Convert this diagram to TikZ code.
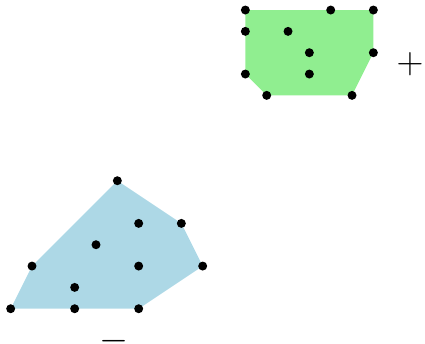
\documentclass[tikz,border=0pt]{standalone}
\usepackage{tikz}
\definecolor{lgreen}{RGB}{144,238,144}
\definecolor{lblue}{RGB}{173,216,230}
\tikzset{
  dot/.style={circle,fill=black,inner sep=0pt,minimum size=4.3mm},
  sign/.style={inner sep=0pt,font=\Huge}
}
\begin{document}
\begin{tikzpicture}[x=5mm,y=5mm]
\useasboundingbox (-0.5,-1.61) rectangle (19.42,14.47);
% green hull
\fill[lgreen] (11,14) -- (17,14) -- (17,12) -- (16,10) -- (12,10) -- (11,11) -- cycle;
% blue hull
\fill[lblue] (5,6) -- (8,4) -- (9,2) -- (6,0) -- (0,0) -- (1,2) -- cycle;
% green points
\foreach \p [count=\i] in {(11,14),(15,14),(17,14),(11,13),(13,13),(17,12),(14,12),(14,11),(11,11),(12,10),(16,10)}
  \node[dot,minimum size=2.1mm] (g\i) at \p {};
% blue points
\foreach \p [count=\i] in {(5,6),(6,4),(8,4),(4,3),(1,2),(6,2),(9,2),(3,1),(0,0),(3,0),(6,0)}
  \node[dot,minimum size=2.1mm] (b\i) at \p {};
\node[sign] (plus) at (18.72,11.47) {$+$};
\node[sign] (minus) at (4.84,-1.51) {$-$};
\end{tikzpicture}
\end{document}
